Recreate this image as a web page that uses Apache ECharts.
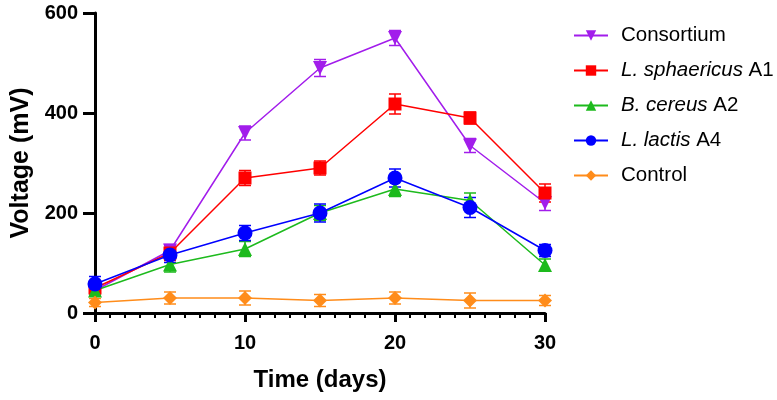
<!DOCTYPE html>
<html>
<head>
<meta charset="utf-8">
<script src="https://cdn.jsdelivr.net/npm/echarts@6/dist/echarts.min.js"></script>
<style>
    html, body {margin: 0; padding: 0; background: #fff;}
    #chart {width: 777px; height: 400px;}
</style>
</head>
<body>
<div id="chart"></div>
<script>
// days sampled
const days = [0, 5, 10, 15, 20, 25, 30];

// mean voltage (mV) per group
const consortium = [45, 125, 360, 490, 550, 335, 220];
const sphaericus = [50, 120, 270, 290, 418, 390, 240];
const cereus = [45, 97, 128, 200, 248, 225, 96];
const lactis = [58, 116, 160, 200, 270, 211, 125];
const control = [21, 30, 30, 25, 30, 25, 25];

// error bars (+/-)
const consortiumErr = [10, 12, 14, 17, 15, 14, 15];
const sphaericusErr = [12, 15, 15, 14, 20, 12, 18];
const cereusErr = [10, 15, 15, 15, 15, 15, 12];
const lactisErr = [15, 15, 15, 18, 18, 20, 12];
const controlErr = [8, 12, 14, 12, 12, 15, 10];

const groups = [
    {name: 'Consortium', data: consortium, err: consortiumErr, color: '#A21DEB', symbol: 'triangle', rotate: 180, size: 14},
    {name: 'L. sphaericus A1', data: sphaericus, err: sphaericusErr, color: '#FF0000', symbol: 'rect', rotate: 0, size: 13},
    {name: 'B. cereus A2', data: cereus, err: cereusErr, color: '#1DBA1D', symbol: 'triangle', rotate: 0, size: 14},
    {name: 'L. lactis A4', data: lactis, err: lactisErr, color: '#0000FF', symbol: 'circle', rotate: 0, size: 15},
    {name: 'Control', data: control, err: controlErr, color: '#FF8C1A', symbol: 'diamond', rotate: 0, size: 14}
];

const FONT = 'Liberation Sans, Arial, sans-serif';
const chart = echarts.init(document.getElementById('chart'));

const series = [];
groups.forEach(g => {
    // error bars
    series.push({
        name: g.name + ' err',
        type: 'custom',
        silent: true,
        z: 2,
        data: days.map((d, i) => [d, g.data[i] - g.err[i], g.data[i] + g.err[i]]),
        renderItem: function (params, api) {
            const lo = api.coord([api.value(0), api.value(1)]);
            const hi = api.coord([api.value(0), api.value(2)]);
            const hw = 6;
            const style = {stroke: g.color, lineWidth: 1.5};
            return {
                type: 'group',
                children: [
                    {type: 'line', shape: {x1: lo[0], y1: lo[1], x2: hi[0], y2: hi[1]}, style},
                    {type: 'line', shape: {x1: lo[0] - hw, y1: lo[1], x2: lo[0] + hw, y2: lo[1]}, style},
                    {type: 'line', shape: {x1: hi[0] - hw, y1: hi[1], x2: hi[0] + hw, y2: hi[1]}, style}
                ]
            };
        }
    });
    series.push({
        name: g.name,
        type: 'line',
        z: 3,
        data: days.map((d, i) => [d, g.data[i]]),
        symbol: g.symbol,
        symbolRotate: g.rotate,
        symbolSize: g.size,
        showAllSymbol: true,
        itemStyle: {color: g.color},
        lineStyle: {color: g.color, width: 1.5},
        emphasis: {disabled: true}
    });
});

const option = {
    animation: false,
    backgroundColor: '#fff',
    grid: {left: 95, right: 232, top: 13, bottom: 87},
    legend: {
        orient: 'vertical',
        left: 568,
        top: 20,
        itemWidth: 34,
        itemHeight: 13,
        itemGap: 14,
        data: groups.map(g => g.name),
        formatter: function (name) {
            if (name === 'L. sphaericus A1') return '{i|L. sphaericus} A1';
            if (name === 'B. cereus A2') return '{i|B. cereus} A2';
            if (name === 'L. lactis A4') return '{i|L. lactis} A4';
            return name;
        },
        textStyle: {
            fontFamily: FONT,
            fontSize: 20.5,
            color: '#000',
            padding: [0, 0, 0, 8],
            rich: {
                i: {fontStyle: 'italic', fontFamily: FONT, fontSize: 20.5, color: '#000'}
            }
        }
    },
    xAxis: {
        type: 'value',
        min: 0,
        max: 30,
        interval: 10,
        name: 'Time (days)',
        nameLocation: 'middle',
        nameGap: 55,
        nameTextStyle: {fontFamily: FONT, fontWeight: 'bold', fontSize: 24, color: '#000'},
        axisLine: {lineStyle: {color: '#000', width: 3}},
        axisTick: {length: 9, lineStyle: {color: '#000', width: 3}},
        minorTick: {show: true, splitNumber: 10, length: 5, lineStyle: {color: '#000', width: 2}},
        splitLine: {show: false},
        axisLabel: {fontFamily: FONT, fontWeight: 'bold', fontSize: 20, color: '#000', margin: 20}
    },
    yAxis: {
        type: 'value',
        min: 0,
        max: 600,
        interval: 200,
        name: 'Voltage (mV)',
        nameLocation: 'middle',
        nameGap: 61,
        nameTextStyle: {fontFamily: FONT, fontWeight: 'bold', fontSize: 25, color: '#000'},
        axisLine: {show: true, lineStyle: {color: '#000', width: 3}},
        axisTick: {show: true, length: 12, lineStyle: {color: '#000', width: 3}},
        splitLine: {show: false},
        axisLabel: {fontFamily: FONT, fontWeight: 'bold', fontSize: 20, color: '#000', margin: 17}
    },
    series: series
};

chart.setOption(option);
</script>
</body>
</html>
